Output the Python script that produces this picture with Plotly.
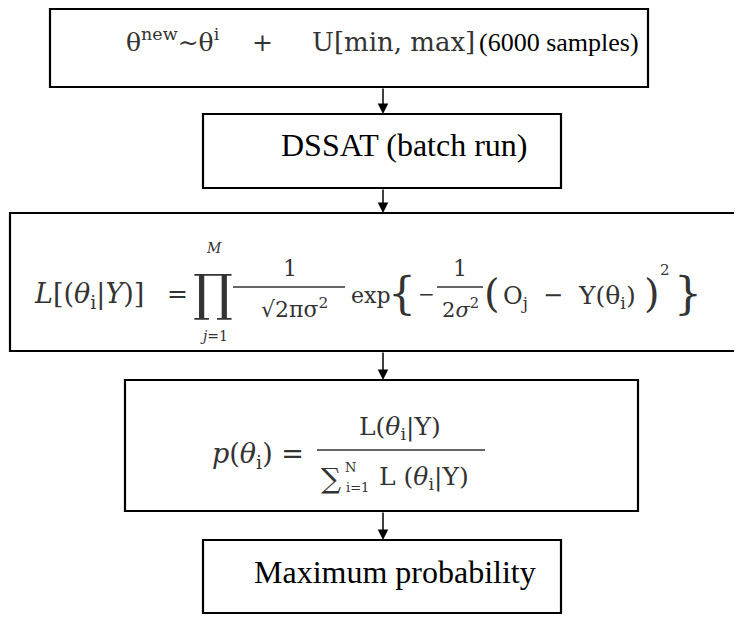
import plotly.graph_objects as go

W, H = 742, 617
PAD = 8  # default body margin of the html page

# flowchart steps, top to bottom
steps = ["sampling", "dssat", "likelihood", "posterior", "maximum"]
sampling_left = "θ<sup>new</sup>∼θ<sup>i</sup>"
sampling_right = "U[min, max]"
sampling_note = "(6000 samples)"
dssat_label = "DSSAT (batch run)"
maximum_label = "Maximum probability"

INK = "black"
MATH_INK = "#333333"
SERIF = "Liberation Serif, Times New Roman, serif"
MATH = "DejaVu Serif, serif"

# box outlines in page pixels (x0, x1, y0, y1)
boxes = {
    "sampling": (50, 648, 9, 87),
    "dssat": (203, 561, 114, 188),
    "likelihood": (10, 780, 213, 351),
    "posterior": (125, 638, 380, 511),
    "maximum": (203, 561, 540, 613),
}
arrow_x = 383

fig = go.Figure()


def txt(x, y, s, size=22, family=MATH, anchor="center", color=MATH_INK):
    fig.add_annotation(x=x, y=y, text=s, showarrow=False, xanchor=anchor, yanchor="middle",
                       font=dict(size=size, family=family, color=color), borderpad=0)


def hline(x0, x1, y, width=1.4, color=MATH_INK):
    fig.add_shape(type="line", x0=x0, x1=x1, y0=y, y1=y, line=dict(color=color, width=width))


for key in steps:
    x0, x1, y0, y1 = boxes[key]
    fig.add_shape(type="rect", x0=x0, x1=x1, y0=y0, y1=y1, line=dict(color=INK, width=2.2),
                  fillcolor="white", layer="below")

# arrows between consecutive boxes
for a, b in zip(steps[:-1], steps[1:]):
    fig.add_annotation(x=arrow_x, y=boxes[b][2], ax=arrow_x, ay=boxes[a][3],
                       xref="x", yref="y", axref="x", ayref="y", text="",
                       showarrow=True, arrowhead=2, arrowsize=1.4, arrowwidth=1.5,
                       arrowcolor=INK, standoff=0, startstandoff=0, font=dict(size=10))

# step 1: sampling
txt(125, 40, sampling_left, size=25, anchor="left")
txt(262, 42, "+", size=25)
txt(476, 42, sampling_right, size=26, anchor="right")
txt(478, 42, sampling_note, size=26, family=SERIF, anchor="left", color=INK)

# step 2: DSSAT
txt(404, 145, dssat_label, size=32, family=SERIF, color=INK)

# step 3: likelihood
cy = 295
txt(33, cy, "<i>L</i>[(<i>θ</i><sub>i</sub>|<i>Y</i>)]", size=27, anchor="left")
txt(177, cy - 2, "=", size=25)
txt(213, cy - 2, "∏", size=50)
txt(214, 248, "<i>M</i>", size=14)
txt(214, 336, "<i>j</i>=1", size=14)
txt(290, 268, "1", size=22)
hline(233, 345, 287)
txt(294, 308, "√2πσ<sup>2</sup>", size=22)
txt(350, cy, "exp", size=22, anchor="left")
txt(402, cy - 2, "{", size=44)
txt(426, cy - 1, "−", size=20)
txt(460, 268, "1", size=22)
hline(437, 483, 287)
txt(460, 308, "2<i>σ</i><sup>2</sup>", size=21)
txt(492, cy - 2, "(", size=40)
txt(502, cy + 2, "O<sub>j</sub>", size=24, anchor="left")
txt(553, cy, "−", size=24)
txt(577, cy + 2, "Y(θ<sub>i</sub>)", size=25, anchor="left")
txt(652, cy - 2, ")", size=40)
txt(665, 270, "2", size=15)
txt(688, cy - 2, "}", size=44)

# step 4: posterior probability
txt(305, 455, "<i>p</i>(<i>θ</i><sub>i</sub>) =", size=27, anchor="right")
txt(400, 428, "L(<i>θ</i><sub>i</sub>|Y)", size=25)
hline(317, 485, 450)
txt(331, 478, "∑", size=28)
txt(350, 467, "N", size=13)
txt(357, 487, "i=1", size=13)
txt(378, 478, "L (<i>θ</i><sub>i</sub>|Y)", size=25, anchor="left")

# step 5: maximum
txt(395, 572, maximum_label, size=32, family=SERIF, color=INK)

# axes span the page pixels the figure covers (it sits PAD px in from the corner)
fig.update_xaxes(range=[PAD, W], visible=False, fixedrange=True)
fig.update_yaxes(range=[H, PAD], visible=False, fixedrange=True)
fig.update_layout(width=W - PAD, height=H - PAD, margin=dict(l=0, r=0, t=0, b=0),
                  plot_bgcolor="white", paper_bgcolor="white", showlegend=False)

fig.write_html("out.html")
